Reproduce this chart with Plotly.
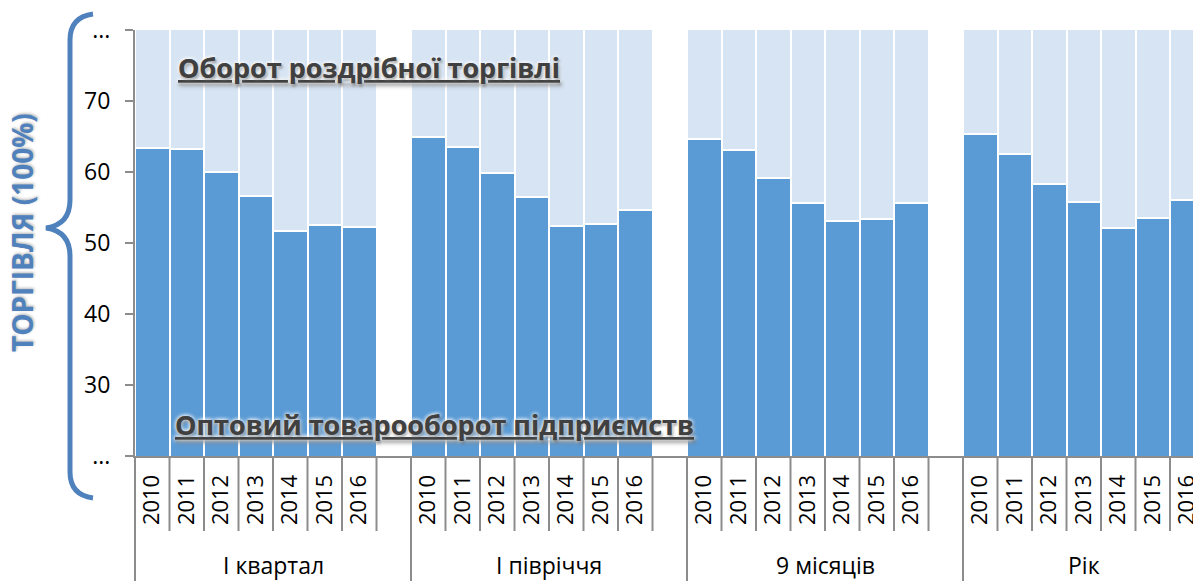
import plotly.graph_objects as go

# ---- data ----
years = ["2010", "2011", "2012", "2013", "2014", "2015", "2016"]
periods = ["І квартал", "І півріччя", "9 місяців", "Рік"]
# wholesale share (%) per period, per year
wholesale_q1 = [63.4, 63.2, 60.0, 56.6, 51.7, 52.5, 52.3]
wholesale_h1 = [64.9, 63.5, 59.9, 56.5, 52.4, 52.7, 54.6]
wholesale_9m = [64.6, 63.1, 59.2, 55.6, 53.1, 53.4, 55.6]
wholesale_yr = [65.4, 62.5, 58.3, 55.8, 52.1, 53.5, 56.1]
wholesale = [wholesale_q1, wholesale_h1, wholesale_9m, wholesale_yr]
y_tickvals = [20, 30, 40, 50, 60, 70, 80]
y_ticktext = ["...", "30", "40", "50", "60", "70", "..."]

label_retail = "Оборот роздрібної торгівлі"
label_wholesale = "Оптовий товарооборот підприємств"
y_title = "ТОРГІВЛЯ (100%)"

# ---- layout constants ----
W, H = 1193, 581
ML, MR, MT, MB = 135, 0, 30, 125
PW, PH = W - ML - MR, H - MT - MB
SLOT = 8  # 7 years + blank category
SLOT_PX = 34.5
FONT = "Open Sans"
DARK = "#5B9BD5"
LIGHT = "#D6E4F3"
GRID = "#8C8C8C"


def px(x):
    return (x - ML) / PW


def py(y):
    return (H - MB - y) / PH


xs, ws, rs, texts = [], [], [], []
for g, vals in enumerate(wholesale):
    for i, v in enumerate(vals):
        xs.append(g * SLOT + i)
        ws.append(v)
        rs.append(100 - v)
        texts.append(years[i])

fig = go.Figure()
fig.add_trace(go.Bar(x=xs, y=ws, marker=dict(color=DARK, line=dict(color="white", width=2.5)),
                     name=label_wholesale, hoverinfo="x+y"))
fig.add_trace(go.Bar(x=xs, y=rs, marker=dict(color=LIGHT, line=dict(color="white", width=2.5)),
                     name=label_retail, hoverinfo="x+y"))

shapes = []
for g in range(len(periods)):
    for i in range(len(years)):
        shapes.append(dict(type="line", xref="x", yref="paper", x0=g * SLOT + i + 0.5, x1=g * SLOT + i + 0.5,
                           y0=0, y1=py(531), line=dict(color=GRID, width=2)))
    if g > 0:
        shapes.append(dict(type="line", xref="x", yref="paper", x0=g * SLOT - 0.5, x1=g * SLOT - 0.5,
                           y0=0, y1=py(H + 5), line=dict(color=GRID, width=2)))
shapes.append(dict(type="line", xref="paper", yref="paper", x0=0, x1=0, y0=py(H + 5), y1=0,
                   line=dict(color=GRID, width=2)))

# curly brace
pts = [(93, 14), (78, 16), (70, 24), (70, 40), (70, 200), (70, 218), (60, 226), (46, 228),
       (60, 230), (70, 238), (70, 256), (70, 472), (70, 488), (78, 496), (93, 498)]
P = [(px(a), py(b)) for a, b in pts]
path = (f"M {P[0][0]},{P[0][1]} C {P[1][0]},{P[1][1]} {P[2][0]},{P[2][1]} {P[3][0]},{P[3][1]} "
        f"L {P[4][0]},{P[4][1]} C {P[5][0]},{P[5][1]} {P[6][0]},{P[6][1]} {P[7][0]},{P[7][1]} "
        f"C {P[8][0]},{P[8][1]} {P[9][0]},{P[9][1]} {P[10][0]},{P[10][1]} "
        f"L {P[11][0]},{P[11][1]} C {P[12][0]},{P[12][1]} {P[13][0]},{P[13][1]} {P[14][0]},{P[14][1]}")
shapes.append(dict(type="path", xref="paper", yref="paper", path=path,
                   line=dict(color="#4F81BD", width=5)))

annotations = []
for g, name in enumerate(periods):
    span = SLOT if g < len(periods) - 1 else len(years)
    center = g * SLOT + (span - 1) / 2
    annotations.append(dict(x=center, y=py(565), xref="x", yref="paper", text=name, showarrow=False,
                            font=dict(family=FONT, size=23, color="#000000"), yanchor="middle"))

shadow = "0px 0px 4px rgba(255,255,255,1), 1px 2px 3px rgba(0,0,0,0.35)"
annotations.append(dict(x=px(176), y=py(68), xref="paper", yref="paper", text=label_retail,
                        showarrow=False, xanchor="left", yanchor="middle",
                        font=dict(family=FONT, size=27, color="#404040", weight="bold",
                                  lineposition="under", shadow=shadow)))
annotations.append(dict(x=px(173), y=py(424), xref="paper", yref="paper", text=label_wholesale,
                        showarrow=False, xanchor="left", yanchor="middle",
                        font=dict(family=FONT, size=27, color="#404040", weight="bold",
                                  lineposition="under", shadow=shadow)))
annotations.append(dict(x=px(22), y=py(233), xref="paper", yref="paper", text=y_title,
                        showarrow=False, textangle=-90, xanchor="center", yanchor="middle",
                        font=dict(family=FONT, size=28, color="#4F81BD", weight="bold",
                                  shadow="1px 1px 3px rgba(0,0,0,0.3)")))

fig.update_layout(
    width=W, height=H,
    margin=dict(l=ML, r=MR, t=MT, b=MB, pad=0, autoexpand=False),
    barmode="stack", bargap=0,
    plot_bgcolor="white", paper_bgcolor="white",
    showlegend=False,
    font=dict(family=FONT, color="#000000"),
    shapes=shapes, annotations=annotations,
    xaxis=dict(range=[-0.5, PW / SLOT_PX - 0.5], tickmode="array", tickvals=xs,
               ticktext=texts, tickangle=-90, ticks="", showgrid=False, zeroline=False,
               showline=True, linecolor=GRID, linewidth=2, ticklabeloverflow="allow",
               ticklabelstandoff=8, automargin=False,
               tickfont=dict(family=FONT, size=22, color="#000000")),
    yaxis=dict(range=[20, 80], tickmode="array", tickvals=y_tickvals, ticktext=y_ticktext,
               ticks="outside", ticklen=8, tickwidth=2, tickcolor=GRID, showgrid=False,
               zeroline=False, showline=True, linecolor=GRID, linewidth=2, automargin=False,
               ticklabelstandoff=10,
               tickfont=dict(family=FONT, size=23, color="#000000")),
)

fig.write_html("out.html", config={"displayModeBar": False},
               post_script="document.body.style.margin='0';")
